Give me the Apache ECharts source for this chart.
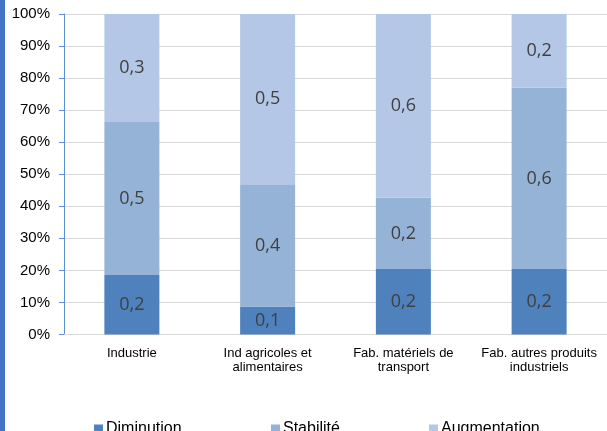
<!DOCTYPE html>
<html>
<head>
<meta charset="utf-8">
<script src="https://cdn.jsdelivr.net/npm/echarts@6/dist/echarts.min.js"></script>
<style>
  html, body { margin: 0; padding: 0; background: #ffffff; }
  #chart { width: 607px; height: 431px; }
</style>
</head>
<body>
<div id="chart"></div>
<script>
// Sectors shown on the horizontal axis
const categories = [
  'Industrie',
  'Ind agricoles et\nalimentaires',
  'Fab. matériels de\ntransport',
  'Fab. autres produits\nindustriels'
];

// Share of firms per outlook (fractions of 1), stacked to 100 %
const diminution   = [0.186, 0.087, 0.204, 0.204];
const stabilite    = [0.477, 0.382, 0.223, 0.566];
const augmentation = [0.337, 0.531, 0.573, 0.230];

const yTicks = [0, 0.1, 0.2, 0.3, 0.4, 0.5, 0.6, 0.7, 0.8, 0.9, 1];

const colors = {
  diminution: '#4f81bd',
  stabilite: '#95b3d7',
  augmentation: '#b4c7e7'
};

const decimalComma = v => v.toFixed(1).replace('.', ',');

const labelStyle = {
  show: true,
  position: 'inside',
  fontFamily: 'Open Sans',
  fontSize: 18,
  color: '#404040',
  formatter: p => decimalComma(p.value)
};

function barSeries(name, data, color) {
  return {
    name: name,
    type: 'bar',
    stack: 'total',
    barWidth: 55,
    data: data,
    itemStyle: { color: color },
    label: labelStyle,
    emphasis: { disabled: true }
  };
}

function legendAt(name, left) {
  return {
    data: [name],
    left: left,
    top: 421,
    padding: 0,
    icon: 'rect',
    itemWidth: 9,
    itemHeight: 9,
    itemGap: 0,
    textStyle: {
      fontFamily: 'Liberation Sans',
      fontSize: 16,
      color: '#000000',
      padding: [0, 0, 0, -2]
    }
  };
}

const chart = echarts.init(document.getElementById('chart'), null, { renderer: 'canvas' });

chart.setOption({
  animation: false,
  backgroundColor: '#ffffff',
  graphic: [
    {
      type: 'rect',
      left: 0,
      top: 0,
      shape: { width: 5, height: 431 },
      style: { fill: '#4472c4' },
      silent: true
    }
  ],
  legend: [
    legendAt('Diminution', 94),
    legendAt('Stabilité', 271),
    legendAt('Augmentation', 429)
  ],
  grid: {
    left: 64,
    top: 14,
    width: 547,
    height: 320.5,
    containLabel: false
  },
  xAxis: {
    type: 'category',
    data: categories,
    axisLine: { show: true, lineStyle: { color: '#d9d9d9', width: 1 } },
    axisTick: { show: false },
    axisLabel: {
      interval: 0,
      margin: 12,
      fontFamily: 'Liberation Sans',
      fontSize: 13,
      lineHeight: 14,
      color: '#000000'
    },
    splitLine: { show: false }
  },
  yAxis: {
    type: 'value',
    min: yTicks[0],
    max: yTicks[yTicks.length - 1],
    interval: 0.1,
    axisLine: { show: true, lineStyle: { color: '#5b8fcd', width: 1 } },
    axisTick: { show: true, inside: false, length: 5, lineStyle: { color: '#5b8fcd' } },
    axisLabel: {
      margin: 14,
      fontFamily: 'Liberation Sans',
      fontSize: 15,
      color: '#000000',
      formatter: v => Math.round(v * 100) + '%'
    },
    splitLine: { show: true, lineStyle: { color: '#d9d9d9', width: 1 } }
  },
  series: [
    barSeries('Diminution', diminution, colors.diminution),
    barSeries('Stabilité', stabilite, colors.stabilite),
    barSeries('Augmentation', augmentation, colors.augmentation)
  ]
});
</script>
</body>
</html>
